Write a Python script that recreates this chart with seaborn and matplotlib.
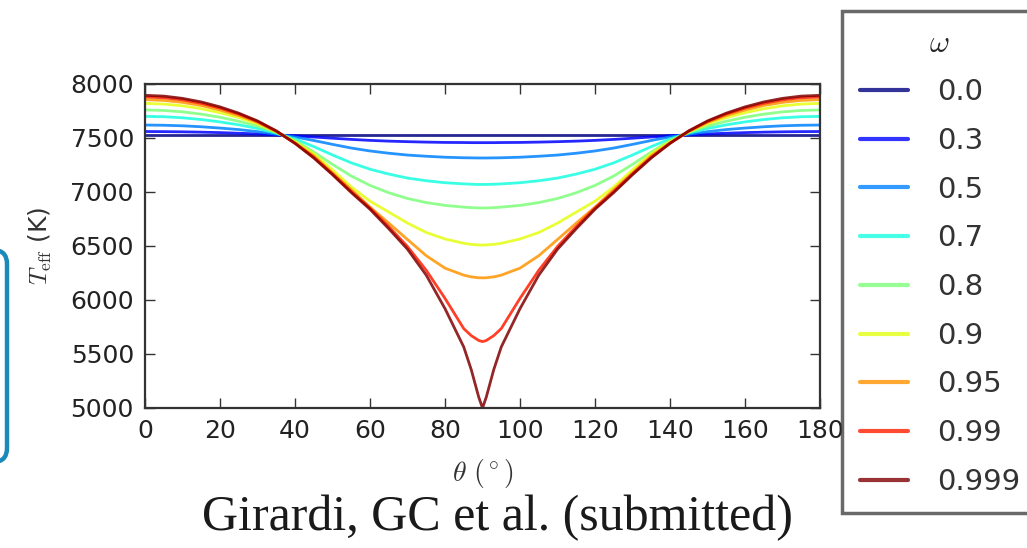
import numpy as np
import pandas as pd
import matplotlib
matplotlib.use("Agg")
import matplotlib.pyplot as plt
import seaborn as sns
from matplotlib.patches import FancyBboxPatch
from matplotlib.transforms import IdentityTransform

# === DATA ===
theta = [0, 5, 10, 15, 20, 25, 30, 35, 40, 45, 50, 55, 60, 65, 70, 75, 80, 85, 87, 89, 90,
         91, 93, 95, 100, 105, 110, 115, 120, 125, 130, 135, 140, 145, 150, 155, 160,
         165, 170, 175, 180]

omega_labels = ["0.0", "0.3", "0.5", "0.7", "0.8", "0.9", "0.95", "0.99", "0.999"]

teff_00 = [7525, 7525, 7525, 7525, 7525, 7525, 7525, 7525, 7525, 7525, 7525, 7525,
           7525, 7525, 7525, 7525, 7525, 7525, 7525, 7525, 7525, 7525, 7525, 7525,
           7525, 7525, 7525, 7525, 7525, 7525, 7525, 7525, 7525, 7525, 7525, 7525,
           7525, 7525, 7525, 7525, 7525]
teff_03 = [7560, 7559, 7557, 7554, 7550, 7544, 7538, 7529, 7520, 7509, 7498, 7487,
           7478, 7471, 7466, 7462, 7459, 7458, 7457, 7457, 7457,
           7457, 7457, 7458, 7459, 7462, 7466, 7471, 7478, 7487, 7498, 7509, 7520,
           7529, 7538, 7544, 7550, 7554, 7557, 7559, 7560]
teff_05 = [7620, 7618, 7613, 7604, 7592, 7578, 7559, 7535, 7510, 7477, 7441, 7407,
           7380, 7359, 7342, 7331, 7322, 7317, 7316, 7315, 7315,
           7315, 7316, 7317, 7322, 7331, 7342, 7359, 7380, 7407, 7441, 7477, 7510,
           7535, 7559, 7578, 7592, 7604, 7613, 7618, 7620]
teff_07 = [7700, 7697, 7687, 7671, 7649, 7622, 7588, 7544, 7493, 7420, 7343, 7270,
           7211, 7166, 7129, 7104, 7086, 7075, 7072, 7070, 7070,
           7070, 7072, 7075, 7086, 7104, 7129, 7166, 7211, 7270, 7343, 7420, 7493,
           7544, 7588, 7622, 7649, 7671, 7687, 7697, 7700]
teff_08 = [7760, 7755, 7742, 7721, 7692, 7655, 7610, 7551, 7478, 7370, 7256, 7148,
           7061, 6993, 6940, 6902, 6876, 6860, 6855, 6852, 6852,
           6852, 6855, 6860, 6876, 6902, 6940, 6993, 7061, 7148, 7256, 7370, 7478,
           7551, 7610, 7655, 7692, 7721, 7742, 7755, 7760]
teff_09 = [7820, 7814, 7798, 7771, 7734, 7689, 7631, 7557, 7464, 7355, 7205, 7047,
           6915, 6814, 6712, 6625, 6565, 6525, 6515, 6510, 6509,
           6510, 6515, 6525, 6565, 6625, 6712, 6814, 6915, 7047, 7205, 7355, 7464,
           7557, 7631, 7689, 7734, 7771, 7798, 7814, 7820]
teff_095 = [7855, 7848, 7830, 7801, 7759, 7708, 7644, 7561, 7455, 7335, 7178, 7022,
            6860, 6712, 6560, 6410, 6295, 6230, 6214, 6206, 6205,
            6206, 6214, 6230, 6295, 6410, 6560, 6712, 6860, 7022, 7178, 7335, 7455,
            7561, 7644, 7708, 7759, 7801, 7830, 7848, 7855]
teff_099 = [7880, 7873, 7853, 7821, 7777, 7722, 7653, 7564, 7452, 7322, 7168, 7005,
            6852, 6680, 6495, 6275, 6015, 5735, 5670, 5625, 5615,
            5625, 5670, 5735, 6015, 6275, 6495, 6680, 6852, 7005, 7168, 7322, 7452,
            7564, 7653, 7722, 7777, 7821, 7853, 7873, 7880]
teff_0999 = [7895, 7888, 7867, 7834, 7788, 7730, 7658, 7566, 7450, 7315, 7160, 6995,
             6840, 6660, 6470, 6230, 5920, 5565, 5355, 5100, 5000,
             5100, 5355, 5565, 5920, 6230, 6470, 6660, 6840, 6995, 7160, 7315, 7450,
             7566, 7658, 7730, 7788, 7834, 7867, 7888, 7895]

curves = [teff_00, teff_03, teff_05, teff_07, teff_08, teff_09, teff_095, teff_099, teff_0999]

x_ticks = [0, 20, 40, 60, 80, 100, 120, 140, 160, 180]
y_ticks = [5000, 5500, 6000, 6500, 7000, 7500, 8000]

# long-form table for seaborn
rows = []
for lab, vals in zip(omega_labels, curves):
    for t, v in zip(theta, vals):
        rows.append({"theta": t, "teff": v, "omega": lab})
df = pd.DataFrame(rows)

colors = plt.get_cmap("jet")(np.linspace(0, 1, len(omega_labels)))
palette = dict(zip(omega_labels, colors))

# === PLOT ===
sns.set_style("ticks")
plt.rcParams["font.family"] = ["DejaVu Sans"]
plt.rcParams["mathtext.fontset"] = "cm"

fig = plt.figure(figsize=(10.27, 5.48), dpi=100)
ax = fig.add_axes([145 / 1027, 1 - 408 / 548, 675 / 1027, 324 / 548])

sns.lineplot(data=df, x="theta", y="teff", hue="omega", hue_order=omega_labels,
             palette=palette, linewidth=2, alpha=0.85, errorbar=None, ax=ax)

ax.set_xlim(0, 180)
ax.set_ylim(5000, 8000)
ax.set_xticks(x_ticks)
ax.set_yticks(y_ticks)
ax.tick_params(direction="in", top=True, right=True, length=7, width=1,
               labelsize=18, pad=8, labelcolor="#222222", color="#333333")
for sp in ax.spines.values():
    sp.set_linewidth(1.6)
    sp.set_color("#333333")

ax.set_xlabel(r"$\theta\ (^\circ)$", fontsize=20, labelpad=10, color="#333333")
ax.set_ylabel(r"$T_{\rm eff}$ (K)", fontsize=18, labelpad=12, color="#333333")

# move the legend out to the right, cut by the figure edge like the source
old = ax.get_legend()
handles = old.legend_handles
labels = [t.get_text() for t in old.get_texts()]
old.remove()
leg = fig.legend(handles, labels, title=r"$\omega$", loc="upper left",
                 bbox_to_anchor=(842 / 1027, 1 - 11 / 548),
                 bbox_transform=fig.transFigure, borderaxespad=0,
                 fontsize=21, title_fontsize=22, handlelength=1.65,
                 handletextpad=1.0, borderpad=0.6, labelspacing=0.71,
                 frameon=True, fancybox=False)
leg.get_frame().set_edgecolor("#444444")
leg.get_frame().set_linewidth(2.5)
for h in leg.legend_handles:
    h.set_linewidth(3)
    h.set_alpha(0.8)
for t in leg.get_texts():
    t.set_color("#333333")

fig.text(497 / 1027, 1 - 530 / 548, "Girardi, GC et al. (submitted)",
         ha="center", va="baseline", fontsize=36, family="Liberation Serif",
         color="#1a1a1a")

# blue rounded box peeking in from the left edge
box = FancyBboxPatch((-100, 548 - 462), 107, 212,
                     boxstyle="round,pad=0,rounding_size=14",
                     transform=IdentityTransform(), fill=False,
                     edgecolor="#1b8ab8", linewidth=3.2)
fig.add_artist(box)

fig.savefig("out.png", dpi=100)
